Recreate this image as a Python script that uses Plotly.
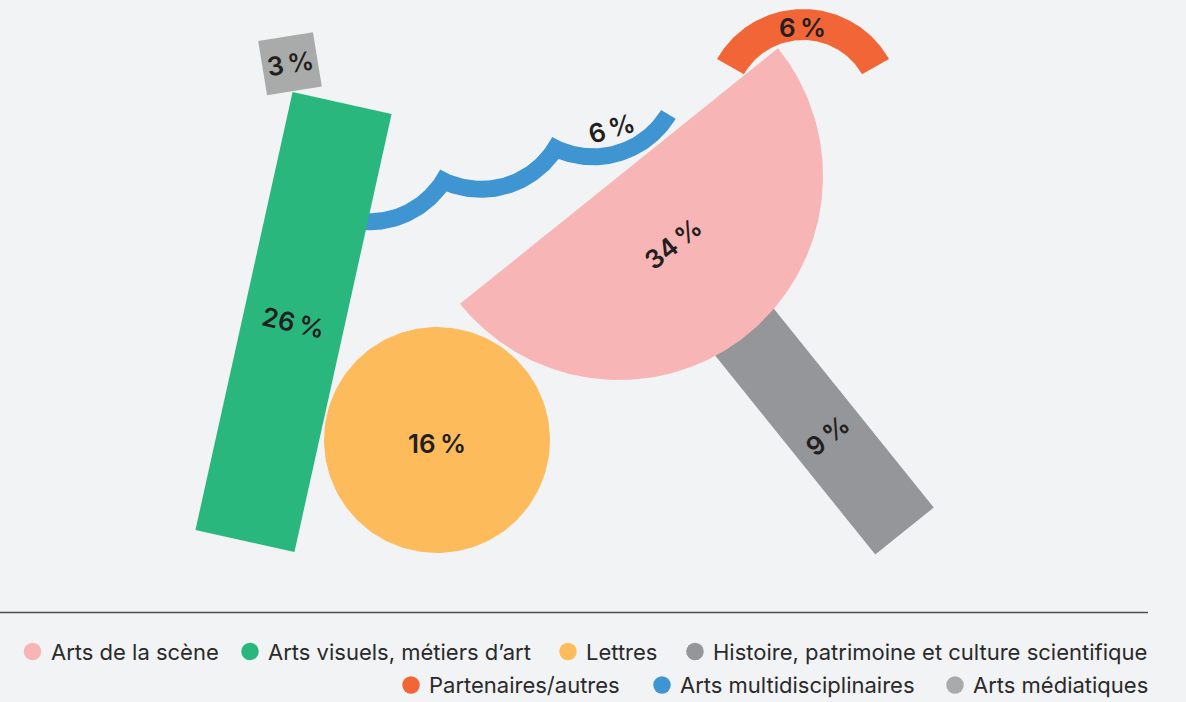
import math
import plotly.graph_objects as go

# ---------------- data ----------------
categories = ["Arts de la scène", "Arts visuels, métiers d’art", "Lettres",
              "Histoire, patrimoine et culture scientifique", "Partenaires/autres",
              "Arts multidisciplinaires", "Arts médiatiques"]
values = [34, 26, 16, 9, 6, 6, 3]
colors = ["#f7b5b5", "#2ab77e", "#fdbb5c", "#959699", "#f26536", "#3f95d1", "#a9abaa"]

# ---------------- layout / geometry (pixel space) ----------------
W, H = 1186, 702
BG = "#f2f3f5"
TXT = "#231f20"

PINK = dict(cx=619, cy=176, r=204, ang=-38.8)          # half-disc, diameter angle
GREEN = dict(cx=293.5, cy=322, w=101.4, h=448.8, ang=12.5)
YELLOW = dict(cx=437, cy=440, r=113, label_dy=3)
GRAYBAR = dict(t0=150, t1=455.6, w=75, label_t=333)     # along pink axis
ORANGE = dict(cx=803, cy=108, r_in=68, r_out=99, a0=-150.3, a1=-29.7, label_x=802, label_y=27)
BLUE = dict(ox=369.1, oy=133.8, sx=112.0, sy=-32.5, n=3, r=88, th=17, a_start=115, a_end=31.2,
            label_x=611, label_y=128, label_ang=-16.5)
SQUARE = dict(cx=290, cy=63.75, w=55.5, h=55, ang=-9.3)

LEG_ROWS_Y = [651.5, 685]
LEG_ITEMS = [  # (category index, row, dot x)
    (0, 0, 32.5), (1, 0, 250), (2, 0, 568), (3, 0, 695),
    (4, 1, 411), (5, 1, 662), (6, 1, 955),
]
LEG_GAP = 16
SEP_Y, SEP_X1 = 612.5, 1148


def rad(a):
    return math.radians(a)


def rect_pts(cx, cy, w, h, ang):
    c, s = math.cos(rad(ang)), math.sin(rad(ang))
    loc = [(-w / 2, -h / 2), (w / 2, -h / 2), (w / 2, h / 2), (-w / 2, h / 2), (-w / 2, -h / 2)]
    xs = [cx + u * c - v * s for u, v in loc]
    ys = [cy + u * s + v * c for u, v in loc]
    return xs, ys


def arc_pts(cx, cy, r, a0, a1, n=120):
    xs, ys = [], []
    for i in range(n + 1):
        a = rad(a0 + (a1 - a0) * i / n)
        xs.append(cx + r * math.cos(a))
        ys.append(cy + r * math.sin(a))
    return xs, ys


def lower_intersection_angle(ca, cb, r):
    dx, dy = cb[0] - ca[0], cb[1] - ca[1]
    d = math.hypot(dx, dy)
    h = math.sqrt(max(r * r - (d / 2) ** 2, 0))
    mx, my = (ca[0] + cb[0]) / 2, (ca[1] + cb[1]) / 2
    px, py = -dy / d, dx / d
    if py < 0:
        px, py = -px, -py
    ix, iy = mx + px * h, my + py * h
    return (math.degrees(math.atan2(iy - ca[1], ix - ca[0])),
            math.degrees(math.atan2(iy - cb[1], ix - cb[0])))


fig = go.Figure()


def add_poly(xs, ys, color):
    fig.add_trace(go.Scatter(x=xs, y=ys, mode="lines", fill="toself", fillcolor=color,
                             line=dict(width=0, color=color), hoverinfo="skip"))


def add_label(x, y, val, ang=0):
    fig.add_annotation(x=x, y=y, text=f"{val}\u2009%", showarrow=False, textangle=ang,
                       font=dict(family="Inter", size=26, color=TXT, weight=600),
                       xanchor="center", yanchor="middle")


# ---- blue wave (Arts multidisciplinaires) ----
bi = 5
centers = [(BLUE["ox"] + i * BLUE["sx"], BLUE["oy"] + i * BLUE["sy"]) for i in range(BLUE["n"])]
r_in = BLUE["r"] - BLUE["th"] / 2
r_out = BLUE["r"] + BLUE["th"] / 2
in_x, in_y, out_x, out_y = [], [], [], []
for i, c in enumerate(centers):
    if i == 0:
        si = so = BLUE["a_start"]
    else:
        _, si = lower_intersection_angle(centers[i - 1], c, r_in)
        _, so = lower_intersection_angle(centers[i - 1], c, r_out)
    if i == len(centers) - 1:
        ei = eo = BLUE["a_end"]
    else:
        ei, _ = lower_intersection_angle(c, centers[i + 1], r_in)
        eo, _ = lower_intersection_angle(c, centers[i + 1], r_out)
    x1, y1 = arc_pts(c[0], c[1], r_in, si, ei, 60)
    x2, y2 = arc_pts(c[0], c[1], r_out, so, eo, 60)
    in_x += x1; in_y += y1; out_x += x2; out_y += y2
add_poly(in_x + out_x[::-1] + [in_x[0]], in_y + out_y[::-1] + [in_y[0]], colors[bi])

# ---- gray bar along pink axis (Histoire) ----
nx, ny = -math.sin(rad(PINK["ang"])), math.cos(rad(PINK["ang"]))
tm = (GRAYBAR["t0"] + GRAYBAR["t1"]) / 2
gx, gy = rect_pts(PINK["cx"] + nx * tm, PINK["cy"] + ny * tm, GRAYBAR["w"],
                  GRAYBAR["t1"] - GRAYBAR["t0"], PINK["ang"])
add_poly(gx, gy, colors[3])

# ---- orange arch (Partenaires) ----
ox1, oy1 = arc_pts(ORANGE["cx"], ORANGE["cy"], ORANGE["r_out"], ORANGE["a0"], ORANGE["a1"])
ox2, oy2 = arc_pts(ORANGE["cx"], ORANGE["cy"], ORANGE["r_in"], ORANGE["a1"], ORANGE["a0"])
add_poly(ox1 + ox2 + [ox1[0]], oy1 + oy2 + [oy1[0]], colors[4])

# ---- pink half-disc (Arts de la scène) ----
px, py = arc_pts(PINK["cx"], PINK["cy"], PINK["r"], PINK["ang"], PINK["ang"] + 180, 160)
add_poly(px + [px[0]], py + [py[0]], colors[0])

# ---- green bar (Arts visuels) ----
add_poly(*rect_pts(GREEN["cx"], GREEN["cy"], GREEN["w"], GREEN["h"], GREEN["ang"]), colors[1])

# ---- light gray square (Arts médiatiques) ----
add_poly(*rect_pts(SQUARE["cx"], SQUARE["cy"], SQUARE["w"], SQUARE["h"], SQUARE["ang"]), colors[6])

# ---- yellow circle (Lettres) ----
yx, yy = arc_pts(YELLOW["cx"], YELLOW["cy"], YELLOW["r"], 0, 360, 200)
add_poly(yx, yy, colors[2])

# ---- value labels ----
tc = 4 * PINK["r"] / (3 * math.pi)
add_label(PINK["cx"] + nx * tc, PINK["cy"] + ny * tc, values[0], PINK["ang"])
add_label(GREEN["cx"], GREEN["cy"], values[1], GREEN["ang"])
add_label(YELLOW["cx"], YELLOW["cy"] + YELLOW["label_dy"], values[2])
add_label(PINK["cx"] + nx * GRAYBAR["label_t"], PINK["cy"] + ny * GRAYBAR["label_t"], values[3], PINK["ang"])
add_label(ORANGE["label_x"], ORANGE["label_y"], values[4])
add_label(BLUE["label_x"], BLUE["label_y"], values[5], BLUE["label_ang"])
add_label(SQUARE["cx"], SQUARE["cy"], values[6], SQUARE["ang"])

# ---- legend ----
fig.add_trace(go.Scatter(
    x=[it[2] for it in LEG_ITEMS], y=[LEG_ROWS_Y[it[1]] for it in LEG_ITEMS], mode="markers",
    marker=dict(size=17.5, color=[colors[it[0]] for it in LEG_ITEMS], line=dict(width=0)),
    hoverinfo="skip"))
for ci, row, dx in LEG_ITEMS:
    fig.add_annotation(x=dx + LEG_GAP, y=LEG_ROWS_Y[row], text=categories[ci], showarrow=False,
                       xanchor="left", yanchor="middle",
                       font=dict(family="Inter", size=22, color="#2a2a2a"))

fig.add_shape(type="line", x0=0, x1=SEP_X1, y0=SEP_Y, y1=SEP_Y, xref="x", yref="y",
              line=dict(color="#4d4d4d", width=1.3))

fig.update_layout(
    width=W, height=H, margin=dict(l=0, r=0, t=0, b=0),
    paper_bgcolor=BG, plot_bgcolor=BG, showlegend=False,
    xaxis=dict(range=[0, W], visible=False, fixedrange=True),
    yaxis=dict(range=[H, 0], visible=False, fixedrange=True),
)

fig.write_html("out.html", config=dict(displayModeBar=False),
               post_script="document.body.style.margin='0';document.body.style.background='%s';" % BG)
